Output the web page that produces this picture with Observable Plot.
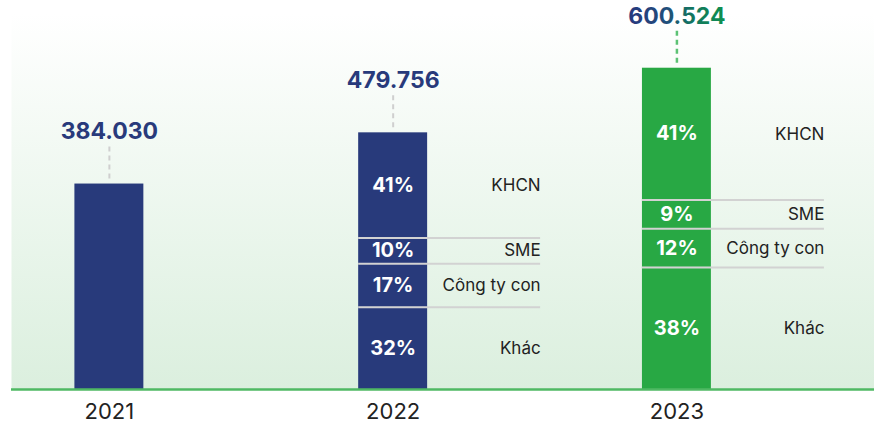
<!DOCTYPE html>
<html>
<head>
<meta charset="utf-8">
<script src="https://cdn.jsdelivr.net/npm/d3@7"></script>
<script src="https://cdn.jsdelivr.net/npm/@observablehq/plot@0.6"></script>
<style>
  html, body { margin: 0; padding: 0; background: #ffffff; }
  #chart svg { display: block; font-family: Inter, "Noto Sans", sans-serif; }
</style>
</head>
<body>
<div id="chart"></div>
<script>
// ---- data ----
const years = ["2021", "2022", "2023"];
const totals = [384030, 479756, 600524];
const segments = ["KHCN", "SME", "Công ty con", "Khác"];          // top to bottom
const shares = {
  "2022": [41, 10, 17, 32],
  "2023": [41, 9, 12, 38]
};

// ---- derived tables ----
const navy = "#283a7b";
const green = "#28a844";
const totalRows = years.map((y, i) => ({year: y, value: totals[i]}));

const barRows = [];
const segRows = [];
const dividerRows = [];
years.forEach((y, i) => {
  const total = totals[i];
  if (!shares[y]) {
    barRows.push({year: y, y1: 0, y2: total});
    return;
  }
  let base = 0;
  // stack from bottom (Khác) up to top (KHCN)
  for (let k = segments.length - 1; k >= 0; k--) {
    const v = total * shares[y][k] / 100;
    const row = {year: y, segment: segments[k], pct: shares[y][k], y1: base, y2: base + v, mid: base + v / 2};
    barRows.push(row);
    segRows.push(row);
    if (k > 0) dividerRows.push({year: y, y: base + v});
    base += v;
  }
});

const viFormat = d3.formatLocale({decimal: ",", thousands: ".", grouping: [3], currency: ["", "₫"]}).format(",d");

const bandCenterToLabelRight = 147.5;

const chart = Plot.plot({
  width: 874,
  height: 432,
  marginLeft: 11,
  marginRight: 0,
  marginTop: 13,
  marginBottom: 43,
  x: {type: "band", domain: years, range: [74.4, 710.9], paddingInner: 0.757, paddingOuter: 0, align: 0.5, round: false, axis: null},
  y: {domain: [0, 700000], range: [389, 14.5], axis: null},
  color: {type: "ordinal", domain: years, range: [navy, navy, green]},
  marks: [
    Plot.frame({fill: "url(#bggrad)", stroke: null}),
    Plot.barY(barRows, {x: "year", y1: "y1", y2: "y2", fill: "year"}),
    Plot.tickY(dividerRows, {x: "year", y: "y", insetRight: -113, stroke: "#d2d2d2", strokeWidth: 2}),
    Plot.ruleY([0], {stroke: "#4fb963", strokeWidth: 2.5}),
    // connectors
    Plot.ruleX(totalRows.filter(d => d.year !== "2023"), {x: "year", y1: "value", y2: "value", insetTop: -5, insetBottom: 38, stroke: "#cfcfcf", strokeWidth: 2, strokeDasharray: "5,4"}),
    Plot.ruleX(totalRows.filter(d => d.year === "2023"), {x: "year", y1: "value", y2: "value", insetTop: -5, insetBottom: 38, stroke: "#5cc274", strokeWidth: 2.5, strokeDasharray: "5,4"}),
    // totals
    Plot.text(totalRows.filter(d => d.year !== "2023"), {x: "year", y: "value", text: d => viFormat(d.value), dy: -52, fontSize: 23, fontWeight: 700, fill: navy}),
    Plot.text(totalRows.filter(d => d.year === "2023"), {x: "year", y: "value", text: d => viFormat(d.value), dy: -52, fontSize: 23, fontWeight: 700, fill: "url(#valgrad)"}),
    // percentages
    Plot.text(segRows, {x: "year", y: "mid", text: d => d.pct + "%", fontSize: 20, fontWeight: 700, fill: "#ffffff"}),
    // category labels
    Plot.text(segRows, {x: "year", y: "mid", text: "segment", dx: bandCenterToLabelRight, textAnchor: "end", fontSize: 17, fill: "#222222"}),
    // year labels
    Plot.text(years, {x: d => d, frameAnchor: "bottom", dy: 29, text: d => d, fontSize: 22, fill: "#222222"})
  ]
});

const defs = d3.select(chart).insert("defs", ":first-child");
const bg = defs.append("linearGradient").attr("id", "bggrad").attr("x1", 0).attr("y1", 0).attr("x2", 0).attr("y2", 1);
bg.append("stop").attr("offset", "0%").attr("stop-color", "#ffffff");
bg.append("stop").attr("offset", "100%").attr("stop-color", "#dbefde");
const vg = defs.append("linearGradient").attr("id", "valgrad").attr("x1", 0).attr("y1", 0).attr("x2", 1).attr("y2", 0);
vg.append("stop").attr("offset", "0%").attr("stop-color", "#26387d");
vg.append("stop").attr("offset", "40%").attr("stop-color", "#214f7b");
vg.append("stop").attr("offset", "65%").attr("stop-color", "#127560");
vg.append("stop").attr("offset", "100%").attr("stop-color", "#0e9150");

document.getElementById("chart").appendChild(chart);
</script>
</body>
</html>
